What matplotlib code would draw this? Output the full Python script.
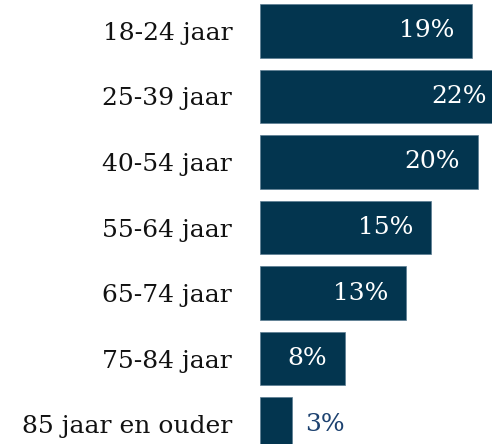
import matplotlib.pyplot as plt

# data
categories = ['18-24 jaar', '25-39 jaar', '40-54 jaar', '55-64 jaar',
              '65-74 jaar', '75-84 jaar', '85 jaar en ouder']
values = [19.3, 22.2, 19.8, 15.5, 13.3, 7.7, 2.9]
labels = ['19%', '22%', '20%', '15%', '13%', '8%', '3%']

bar_color = '#03354f'
font = 'DejaVu Serif'

fig = plt.figure(figsize=(4.92, 4.44), dpi=100)
ax = fig.add_axes([260 / 492, 0, 232 / 492, 1])

ypos = list(range(len(categories)))
ax.barh(ypos, values, height=0.82, color=bar_color,
        edgecolor='#5a7c91', linewidth=0.5)

ax.set_xlim(0, 232 / 11)
ax.set_ylim(6.305, -0.473)

for y, v, lab in zip(ypos, values, labels):
    if v > 5:
        ax.text(v - 1.6, y, lab, ha='right', va='center', color='white',
                fontsize=18, family=font)
    else:
        ax.text(v + 1.2, y, lab, ha='left', va='center', color='#1d4270',
                fontsize=18, family=font)

ax.set_yticks(ypos)
ax.set_yticklabels(categories, fontsize=18, family=font, color='#111111')
ax.tick_params(axis='y', length=0, pad=20)
ax.set_xticks([])
for s in ax.spines.values():
    s.set_visible(False)

fig.savefig('out.png', dpi=100)
